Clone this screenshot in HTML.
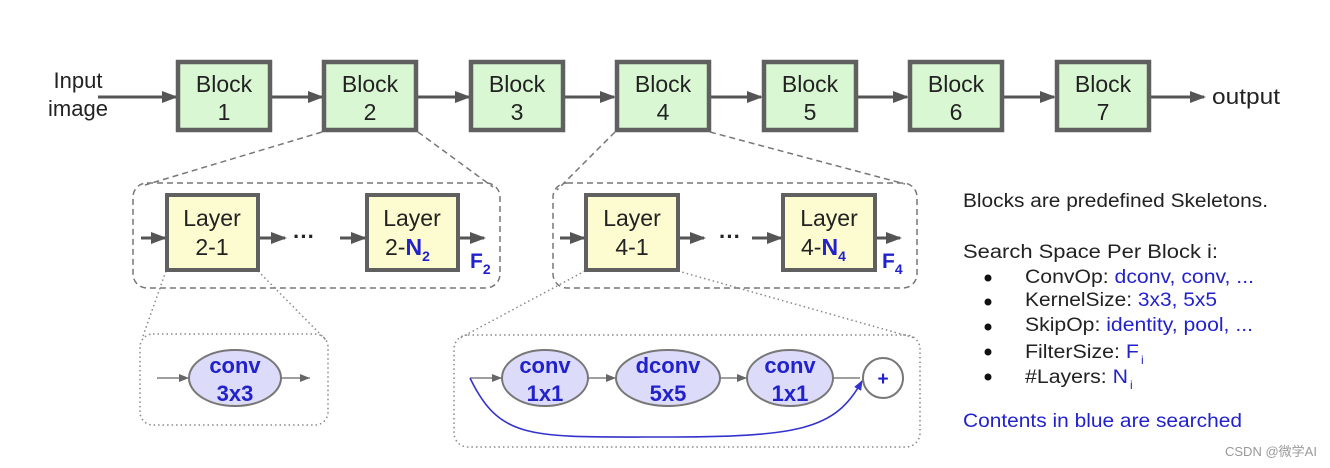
<!DOCTYPE html>
<html><head><meta charset="utf-8"><style>
html,body{margin:0;padding:0;background:#fff;}
svg{display:block;font-family:"Liberation Sans",Arial,sans-serif;}
</style></head><body>
<svg width="1330" height="468" viewBox="0 0 1330 468" xmlns="http://www.w3.org/2000/svg">
<defs>
<marker id="ahb" markerWidth="16" markerHeight="12" refX="14" refY="6" orient="auto" markerUnits="userSpaceOnUse"><path d="M0,0 L16,6 L0,12 z" fill="#555"/></marker>
<marker id="ahs" markerWidth="10" markerHeight="8" refX="10" refY="4" orient="auto" markerUnits="userSpaceOnUse"><path d="M0,0 L10,4 L0,8 z" fill="#666"/></marker>
<marker id="ahblue" markerWidth="10" markerHeight="8" refX="9" refY="4" orient="auto" markerUnits="userSpaceOnUse"><path d="M0,0 L10,4 L0,8 z" fill="#3333cc"/></marker>
</defs>

<text x="78" y="88" font-size="22" text-anchor="middle" fill="#222">Input</text>
<text x="78" y="116" font-size="22" text-anchor="middle" fill="#222">image</text>
<g stroke="#555" stroke-width="3" marker-end="url(#ahb)">
<line x1="98" y1="97" x2="176" y2="97"/>
<line x1="271" y1="97" x2="322" y2="97"/>
<line x1="418" y1="97" x2="469" y2="97"/>
<line x1="564" y1="97" x2="614" y2="97"/>
<line x1="711" y1="97" x2="761" y2="97"/>
<line x1="857" y1="97" x2="907" y2="97"/>
<line x1="1003" y1="97" x2="1054" y2="97"/>
<line x1="1149" y1="97" x2="1204" y2="97"/>
</g>
<text x="1212" y="104" font-size="22" fill="#222" textLength="68" lengthAdjust="spacingAndGlyphs">output</text>

<g fill="#d9f7d3" stroke="#606060" stroke-width="4.5">
<rect x="178" y="62" width="92" height="68"/>
<rect x="324" y="62" width="92" height="68"/>
<rect x="471" y="62" width="92" height="68"/>
<rect x="617" y="62" width="92" height="68"/>
<rect x="764" y="62" width="92" height="68"/>
<rect x="910" y="62" width="92" height="68"/>
<rect x="1057" y="62" width="92" height="68"/>
</g>
<g font-size="23" text-anchor="middle" fill="#222">
<text x="224" y="92">Block</text><text x="224" y="120">1</text>
<text x="370" y="92">Block</text><text x="370" y="120">2</text>
<text x="517" y="92">Block</text><text x="517" y="120">3</text>
<text x="663" y="92">Block</text><text x="663" y="120">4</text>
<text x="810" y="92">Block</text><text x="810" y="120">5</text>
<text x="956" y="92">Block</text><text x="956" y="120">6</text>
<text x="1103" y="92">Block</text><text x="1103" y="120">7</text>
</g>

<g stroke="#777" stroke-width="1.5" stroke-dasharray="6,4" fill="none">
<line x1="322" y1="132" x2="145" y2="185"/>
<line x1="418" y1="132" x2="493" y2="187"/>
<line x1="615" y1="132" x2="557" y2="190"/>
<line x1="710" y1="132" x2="905" y2="184"/>
<rect x="133" y="183" width="367" height="105" rx="14"/>
<rect x="553" y="183" width="364" height="105" rx="14"/>
</g>
<g stroke="#888" stroke-width="1.5" stroke-dasharray="1.5,3" fill="none">
<line x1="166" y1="271" x2="143" y2="336"/>
<line x1="258" y1="271" x2="326" y2="340"/>
<line x1="585" y1="271" x2="460" y2="338"/>
<line x1="678" y1="271" x2="915" y2="338"/>
<rect x="140" y="334" width="188" height="91" rx="13"/>
<rect x="454" y="335" width="466" height="112" rx="14"/>
</g>

<g stroke="#555" stroke-width="3" marker-end="url(#ahb)">
<line x1="141" y1="238" x2="165" y2="238"/>
<line x1="260" y1="238" x2="285" y2="238"/>
<line x1="340" y1="238" x2="365" y2="238"/>
<line x1="460" y1="238" x2="484" y2="238"/>
<line x1="560" y1="238" x2="584" y2="238"/>
<line x1="680" y1="238" x2="704" y2="238"/>
<line x1="752" y1="238" x2="781" y2="238"/>
<line x1="877" y1="238" x2="900" y2="238"/>
</g>
<g fill="#fdfbd0" stroke="#606060" stroke-width="4">
<rect x="167" y="195" width="91" height="75"/>
<rect x="367" y="195" width="91" height="75"/>
<rect x="586" y="195" width="92" height="75"/>
<rect x="783" y="195" width="92" height="75"/>
</g>
<g font-size="23" text-anchor="middle" fill="#222">
<text x="212" y="226">Layer</text><text x="212" y="255">2-1</text>
<text x="412" y="226">Layer</text>
<text x="632" y="226">Layer</text><text x="632" y="255">4-1</text>
<text x="829" y="226">Layer</text>
</g>
<text x="385" y="255" font-size="23" fill="#222">2-<tspan fill="#2222cc" font-weight="bold">N</tspan><tspan fill="#2222cc" font-weight="bold" font-size="14" dy="6">2</tspan></text>
<text x="801" y="255" font-size="23" fill="#222">4-<tspan fill="#2222cc" font-weight="bold">N</tspan><tspan fill="#2222cc" font-weight="bold" font-size="14" dy="6">4</tspan></text>
<text x="470" y="268" font-size="21" font-weight="bold" fill="#2222cc">F<tspan font-size="14" dy="6">2</tspan></text>
<text x="882" y="268" font-size="21" font-weight="bold" fill="#2222cc">F<tspan font-size="14" dy="6">4</tspan></text>
<text x="304" y="244" font-size="22" font-weight="bold" text-anchor="middle" fill="#222">···</text>
<text x="730" y="244" font-size="22" font-weight="bold" text-anchor="middle" fill="#222">···</text>

<g stroke="#666" stroke-width="1.3" marker-end="url(#ahs)">
<line x1="157" y1="378" x2="189" y2="378"/>
<line x1="281" y1="378" x2="310" y2="378"/>
<line x1="470" y1="378" x2="502" y2="378"/>
<line x1="588" y1="378" x2="616" y2="378"/>
<line x1="720" y1="378" x2="747" y2="378"/>
</g>
<line x1="833" y1="378" x2="860" y2="378" stroke="#666" stroke-width="1.3"/>
<path d="M470,378 C500,440 530,437 660,437 C800,437 835,430 862,381" stroke="#3333cc" stroke-width="1.6" fill="none" marker-end="url(#ahblue)"/>
<g fill="#dcdcfa" stroke="#777" stroke-width="2">
<ellipse cx="235" cy="378" rx="46" ry="28"/>
<ellipse cx="545" cy="378" rx="43" ry="28"/>
<ellipse cx="668" cy="378" rx="52" ry="28"/>
<ellipse cx="790" cy="378" rx="43" ry="28"/>
</g>
<circle cx="883" cy="378" r="20" fill="#fff" stroke="#777" stroke-width="2"/>
<text x="883" y="385" font-size="19" font-weight="bold" text-anchor="middle" fill="#2222cc">+</text>
<g font-size="22" font-weight="bold" text-anchor="middle" fill="#2222cc">
<text x="235" y="373">conv</text><text x="235" y="401">3x3</text>
<text x="545" y="373">conv</text><text x="545" y="401">1x1</text>
<text x="668" y="373">dconv</text><text x="668" y="401">5x5</text>
<text x="790" y="373">conv</text><text x="790" y="401">1x1</text>
</g>

<g font-size="19" fill="#222">
<text x="963" y="207" textLength="305" lengthAdjust="spacingAndGlyphs">Blocks are predefined Skeletons.</text>
<text x="963" y="258" textLength="255" lengthAdjust="spacingAndGlyphs">Search Space Per Block i:</text>
<text x="1025" y="283" textLength="229" lengthAdjust="spacingAndGlyphs">ConvOp: <tspan fill="#2222cc">dconv, conv, ...</tspan></text>
<text x="1025" y="306" textLength="192" lengthAdjust="spacingAndGlyphs">KernelSize: <tspan fill="#2222cc">3x3, 5x5</tspan></text>
<text x="1025" y="331" textLength="228" lengthAdjust="spacingAndGlyphs">SkipOp: <tspan fill="#2222cc">identity, pool, ...</tspan></text>
<text x="1025" y="358" textLength="114" lengthAdjust="spacingAndGlyphs">FilterSize: <tspan fill="#2222cc">F</tspan></text>
<text x="1141" y="364" font-size="12" fill="#2222cc">i</text>
<text x="1025" y="383" textLength="103" lengthAdjust="spacingAndGlyphs">#Layers: <tspan fill="#2222cc">N</tspan></text>
<text x="1130" y="389" font-size="12" fill="#2222cc">i</text>
<text x="963" y="427" fill="#2222cc" textLength="279" lengthAdjust="spacingAndGlyphs">Contents in blue are searched</text>
</g>
<g fill="#111">
<circle cx="988" cy="278" r="3.5"/><circle cx="988" cy="302" r="3.5"/><circle cx="988" cy="327" r="3.5"/><circle cx="988" cy="352" r="3.5"/><circle cx="988" cy="377" r="3.5"/>
</g>
<text x="1225" y="456" font-size="13" fill="#999" font-family="'Liberation Sans','Noto Sans CJK SC',sans-serif">CSDN @微学AI</text>
</svg>
</body></html>
